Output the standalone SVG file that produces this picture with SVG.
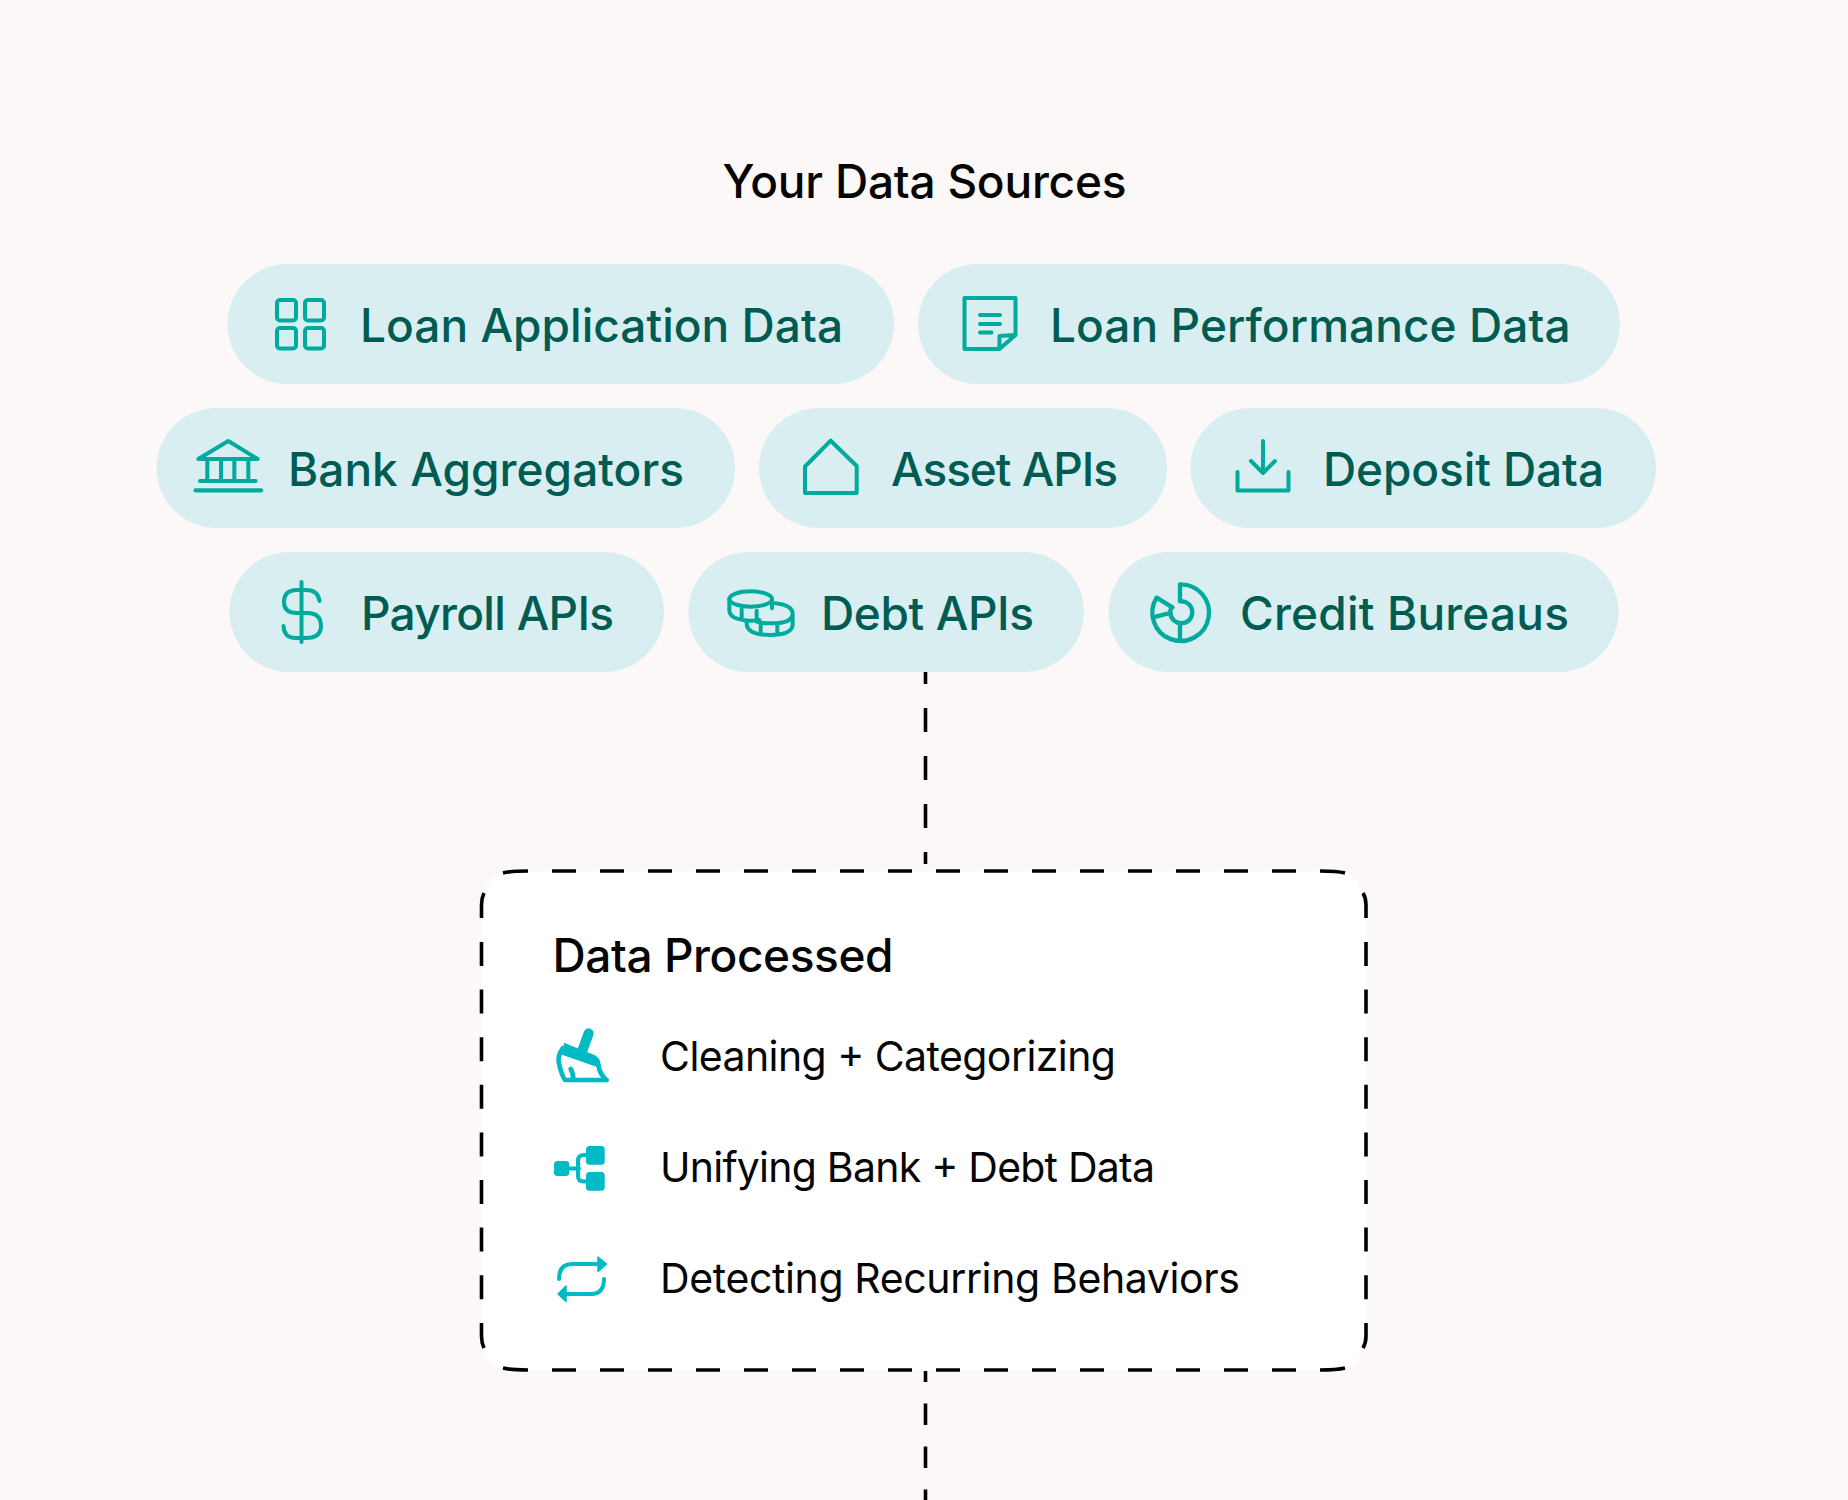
<svg xmlns="http://www.w3.org/2000/svg" width="1848" height="1500" viewBox="0 0 1848 1500">
<style>
text{font-family:"Inter","Noto Sans","Liberation Sans",sans-serif}
.pill{fill:#d9eef0}
.pt{font-size:46px;font-weight:500;fill:#005c52}
.ic{fill:none;stroke:#00ab9e;stroke-width:4;stroke-linecap:round;stroke-linejoin:round}
.bi{fill:none;stroke:#00bac6;stroke-width:4;stroke-linecap:round;stroke-linejoin:round}
.bf{fill:#00bac6}
.h{font-size:46px;font-weight:500;fill:#050505}
.it{font-size:41px;font-weight:400;fill:#050505}
.dash{fill:none;stroke:#000;stroke-width:3.600}
</style>
<rect width="1848" height="1500" fill="#fcf8f7"/>
<text id="title" class="h" x="722.500" y="198" textLength="404">Your Data Sources</text>
<g id="connectors">
<path class="dash" d="M925.500 672V870" stroke-dasharray="12 24 24 24 24 24 24 24 12"/>
<path class="dash" d="M925.500 1371V1500" stroke-dasharray="11 21.5 21.5 21.5 21.5 21.5 11"/>
</g>
<g id="n-loan-application">
<rect class="pill" x="227.500" y="264" width="666.500" height="120" rx="60"/>
<g class="ic"><rect x="277" y="300" width="19" height="20.500" rx="3"/><rect x="305" y="300" width="19" height="20.500" rx="3"/><rect x="277" y="328" width="19" height="20.500" rx="3"/><rect x="305" y="328" width="19" height="20.500" rx="3"/></g>
<text class="pt" x="360" y="342" textLength="483">Loan Application Data</text>
</g>
<g id="n-loan-performance">
<rect class="pill" x="918" y="264" width="702" height="120" rx="60"/>
<path class="ic" d="M964.500 298H1015.500V335L999.500 349H964.500ZM999.500 349V336L1015.500 335M980 315H1000M980 324H1000M980 332.500H991.500"/>
<text class="pt" x="1050" y="342" textLength="520.500">Loan Performance Data</text>
</g>
<g id="n-bank-aggregators">
<rect class="pill" x="156.500" y="408" width="578.500" height="120" rx="60"/>
<g transform="translate(185 430) scale(.3333)">
<path d="M40 87L130 33L218 87Z" fill="none" stroke="#00ab9e" stroke-width="12" stroke-linejoin="round"/>
<path d="M67 90V150M108 90V150M148 90V150M190 90V150M45 153H212" fill="none" stroke="#00ab9e" stroke-width="12" stroke-linecap="round"/>
<path d="M32 181H228" fill="none" stroke="#00ab9e" stroke-width="13" stroke-linecap="round"/>
</g>
<text class="pt" x="288" y="486" textLength="396">Bank Aggregators</text>
</g>
<g id="n-asset-apis">
<rect class="pill" x="759" y="408" width="408" height="120" rx="60"/>
<path class="ic" d="M805 466.500L830.700 440.700L856.700 466V493H805Z"/>
<text class="pt" x="891" y="486" textLength="227">Asset APIs</text>
</g>
<g id="n-deposit-data">
<rect class="pill" x="1190.500" y="408" width="465.500" height="120" rx="60"/>
<path class="ic" d="M1237.500 472V490.500H1288.500V472M1263 441V473M1251 461L1263 473L1275 461"/>
<text class="pt" x="1323" y="486" textLength="281">Deposit Data</text>
</g>
<g id="n-payroll-apis">
<rect class="pill" x="229.500" y="552" width="434.500" height="120" rx="60"/>
<path class="ic" d="M319.500 601Q318 590 306 590H297Q284 590 284 602Q284 613 297 613H307Q321 613 321 626Q321 638 306 638H296Q284 638 283.500 626M301.500 582V642"/>
<text class="pt" x="361" y="630" textLength="253">Payroll APIs</text>
</g>
<g id="n-debt-apis">
<rect class="pill" x="688.500" y="552" width="395.500" height="120" rx="60"/>
<g transform="translate(720 580) scale(.3333)" fill="none" stroke="#00ab9e" stroke-width="12" stroke-linecap="round" stroke-linejoin="round">
<ellipse cx="92" cy="57" rx="64" ry="23"/>
<path d="M28 57V92Q30 120 92 122Q105 122 118 120M156 57V85M65 88V116M110 92V120"/>
<path d="M166 70Q218 76 218 102Q215 132 150 130Q128 130 110 125M218 102V135Q215 165 150 165Q82 165 80 132V122M122 132V160M172 132V160"/>
</g>
<text class="pt" x="821" y="630" textLength="213">Debt APIs</text>
</g>
<g id="n-credit-bureaus">
<rect class="pill" x="1108.500" y="552" width="510" height="120" rx="60"/>
<g transform="translate(1145 575) scale(.3333)" fill="none" stroke="#00ab9e" stroke-width="13" stroke-linecap="round" stroke-linejoin="round">
<path d="M105 28A85 85 0 1 1 35 68L82 97M105 28V77M32 125L76 114M105 146V192"/>
<path d="M105 79A33 33 0 1 1 76 114M76 114Q74 105 82 97"/>
</g>
<text class="pt" x="1240" y="630" textLength="329">Credit Bureaus</text>
</g>
<g id="n-data-processed">
<rect x="481" y="871" width="885" height="499" rx="32" fill="#fff"/>
<g class="dash">
<path d="M552 871H1296" stroke-dasharray="24 24"/>
<path d="M481.500 942V1300" stroke-dasharray="24 23.600"/>
<path d="M1366 942V1300" stroke-dasharray="24 23.600"/>
<path d="M552 1370H1296" stroke-dasharray="24 24"/>
<path d="M503 873Q511 871 528 871M481.500 918V905Q481.500 898 484 893"/>
<path d="M1345 873Q1337 871 1320 871M1366 918V905Q1366 898 1363 893"/>
<path d="M503 1368Q511 1370 528 1370M481.500 1323V1336Q481.500 1343 484 1348"/>
<path d="M1345 1368Q1337 1370 1320 1370M1366 1323V1336Q1366 1343 1363 1348"/>
</g>
<text class="h" x="552.500" y="972" textLength="341">Data Processed</text>
<g transform="translate(540 1010) scale(.3333)">
<path d="M146 70L127 122" fill="none" stroke="#00bac6" stroke-width="30" stroke-linecap="round"/>
<path class="bf" d="M72 98L165 136Q187 150 180 174L66 134Z"/>
<path d="M68 115Q50 140 58 165Q65 195 75 210H200M175 165Q180 195 200 210M92 177Q100 190 100 208" fill="none" stroke="#00bac6" stroke-width="14" stroke-linecap="round" stroke-linejoin="round"/>
</g>
<text class="it" x="660" y="1071" textLength="456">Cleaning + Categorizing</text>
<rect class="bf" x="554" y="1161" width="15.300" height="15" rx="3.500"/>
<rect class="bf" x="586" y="1146" width="18.700" height="18.700" rx="3.500"/>
<rect class="bf" x="586" y="1172" width="18.700" height="18.700" rx="3.500"/>
<path class="bi" d="M569 1168.500H579M586 1155H584Q578 1155 578 1161V1176Q578 1181.500 584 1181.500H586"/>
<text class="it" x="660" y="1182" textLength="495">Unifying Bank + Debt Data</text>
<path class="bi" d="M559 1279Q559 1264 572 1264H600M604 1279Q604 1294 591 1294H564"/>
<path class="bf" d="M598 1257L606.500 1264L598 1271.500ZM566 1286L558 1294L566 1301.500Z" stroke="#00bac6" stroke-width="1.500" stroke-linejoin="round"/>
<text class="it" x="660" y="1293" textLength="580">Detecting Recurring Behaviors</text>
</g>
</svg>
